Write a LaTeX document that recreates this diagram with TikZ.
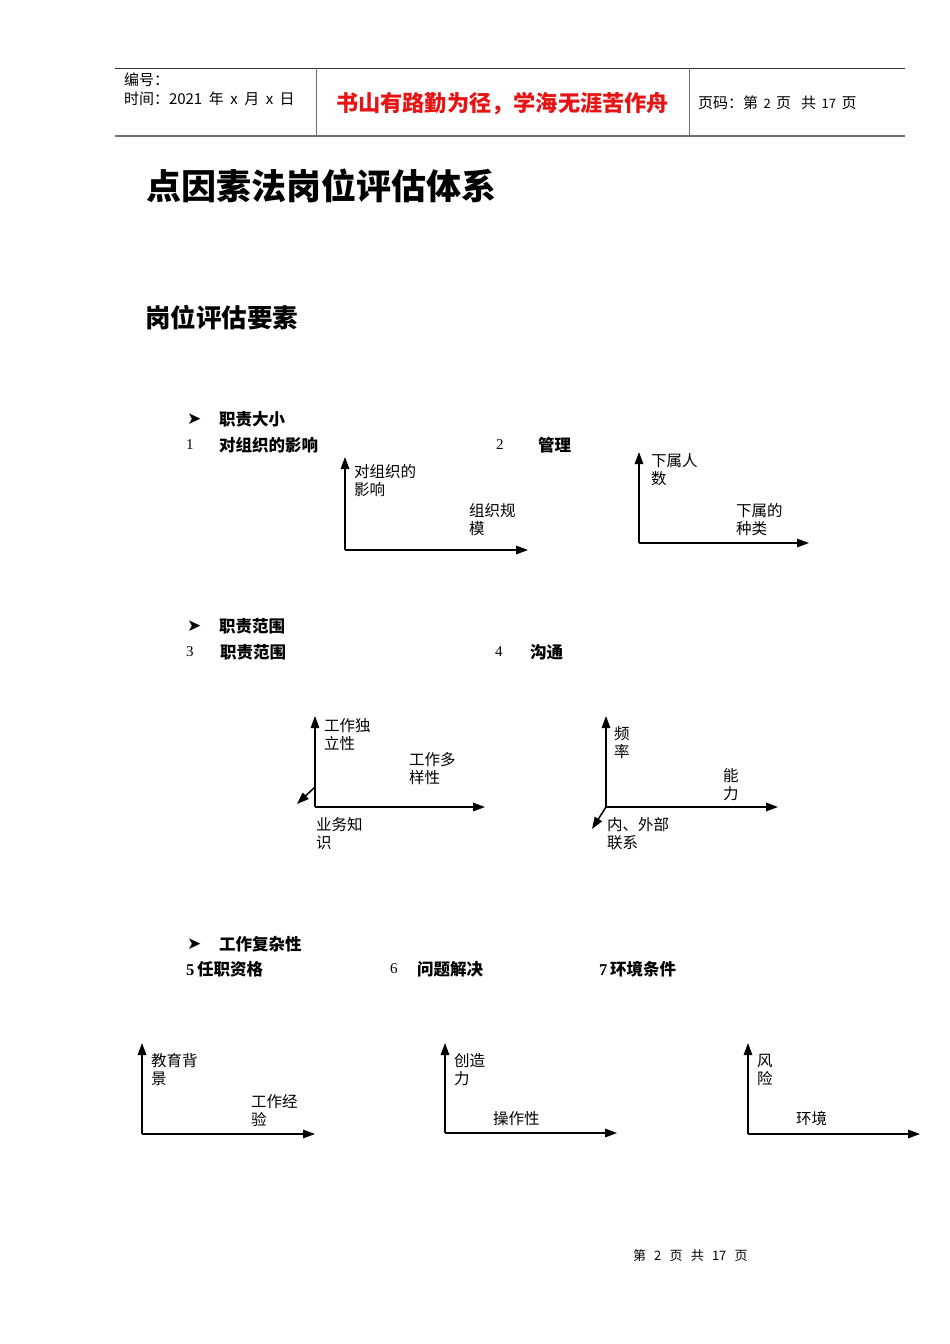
\documentclass[tikz,border=0pt]{standalone}
\usepackage{fontspec}
\usetikzlibrary{arrows.meta}
\newfontfamily\cjk{Noto Sans CJK SC}
\newfontfamily\djv{DejaVu Sans}
\newfontfamily\serifnum{Liberation Serif}
\definecolor{motto}{RGB}{230,20,20}
\definecolor{rulegray}{RGB}{110,110,110}
\tikzset{
  txt/.style={anchor=west,inner sep=0pt,outer sep=0pt,align=left},
  hdr/.style={txt,font=\cjk\fontsize{15}{20}\selectfont},
  lbl/.style={txt,font=\cjk\fontsize{15.5}{18}\selectfont},
  bul/.style={txt,font=\cjk\bfseries\fontsize{16.5}{18}\selectfont},
  num/.style={txt,font=\serifnum\fontsize{15}{18}\selectfont},
  axis/.style={line width=1.5pt,-{Triangle[length=12pt,width=8.5pt]}},
  frame/.style={line width=0.8pt,rulegray},
  arrowbullet/.style={txt,font=\djv\fontsize{17}{18}\selectfont}
}
\begin{document}
\begin{tikzpicture}[x=1pt,y=-1pt]
\useasboundingbox (0,0) rectangle (950,1344);
% header
\draw[frame,black!80] (115,68) -- (905,68);
\draw[rulegray,line width=2pt] (115,136) -- (905,136);
\draw[frame] (316,68) -- (316,136);
\draw[frame] (689,68) -- (689,136);
\node[hdr] (h1) at (124,80) {编号：};
\node[hdr] (h2) at (124,99) {时间：2021\hspace{6.5pt}年\hspace{6.5pt}x\hspace{6.5pt}月\hspace{6.5pt}x\hspace{6.5pt}日};
\node[txt,font=\cjk\bfseries\fontsize{22.2}{24}\selectfont,text=motto] (motto) at (336,104) {书山有路勤为径，学海无涯苦作舟};
\node[hdr] (pg) at (698,103) {页码：第\hspace{5.5pt}{\fontsize{13}{15}\selectfont 2}\hspace{5.5pt}页\hspace{10pt}共\hspace{5.5pt}{\fontsize{13}{15}\selectfont 17}\hspace{5.5pt}页};
% titles
\node[txt,font=\cjk\bfseries\fontsize{35}{40}\selectfont] (title) at (146,186) {点因素法岗位评估体系};
\node[txt,font=\cjk\bfseries\fontsize{25.5}{30}\selectfont] (sub) at (145,318) {岗位评估要素};
% section 1
\node[arrowbullet] (b1) at (187,419) {➤};
\node[bul] (s1) at (219,419) {职责大小};
\node[num] (n1) at (186,445) {1};
\node[bul] (t1) at (219,445) {对组织的影响};
\node[num] (n2) at (496,445) {2};
\node[bul] (t2) at (538,445) {管理};
% chart 1
\coordinate (o1) at (345,550);
\coordinate (y1) at (345,457);
\coordinate (x1) at (528,550);
\draw[axis] (o1) -- (y1);
\draw[axis] (o1) -- (x1);
\node[lbl] (c1a) at (354,481) {对组织的\\影响};
\node[lbl] (c1b) at (469,520) {组织规\\模};
% chart 2
\coordinate (o2) at (639,543);
\coordinate (y2) at (639,452);
\coordinate (x2) at (809,543);
\draw[axis] (o2) -- (y2);
\draw[axis] (o2) -- (x2);
\node[lbl] (c2a) at (651,470) {下属人\\数};
\node[lbl] (c2b) at (736,520) {下属的\\种类};
% section 2
\node[arrowbullet] (b2) at (187,626) {➤};
\node[bul] (s2) at (219,626) {职责范围};
\node[num] (n3) at (186,652) {3};
\node[bul] (t3) at (220,652) {职责范围};
\node[num] (n4) at (495,652) {4};
\node[bul] (t4) at (530,652) {沟通};
% chart 3
\coordinate (o3) at (315,807);
\coordinate (y3) at (315,716);
\coordinate (x3) at (485,807);
\coordinate (d3s) at (315,787);
\coordinate (d3) at (297,804);
\draw[axis] (o3) -- (y3);
\draw[axis] (o3) -- (x3);
\draw[axis] (d3s) -- (d3);
\node[lbl] (c3a) at (324,735) {工作独\\立性};
\node[lbl] (c3b) at (409,769) {工作多\\样性};
\node[lbl] (c3c) at (316,834) {业务知\\识};
% chart 4
\coordinate (o4) at (606,807);
\coordinate (y4) at (606,716);
\coordinate (x4) at (778,807);
\coordinate (d4) at (592,829);
\draw[axis] (o4) -- (y4);
\draw[axis] (o4) -- (x4);
\draw[axis] (o4) -- (d4);
\node[lbl] (c4a) at (614,743) {频\\率};
\node[lbl] (c4b) at (723,785) {能\\力};
\node[lbl] (c4c) at (607,834) {内、外部\\联系};
% section 3
\node[arrowbullet] (b3) at (187,944) {➤};
\node[bul] (s3) at (219,944) {工作复杂性};
\node[txt,font=\cjk\bfseries\fontsize{16.5}{18}\selectfont] (t5) at (186,969) {{\serifnum 5}\,任职资格};
\node[num] (n6) at (390,969) {6};
\node[bul] (t6) at (417,969) {问题解决};
\node[txt,font=\cjk\bfseries\fontsize{16.5}{18}\selectfont] (t7) at (599,969) {{\serifnum 7}\,环境条件};
% chart 5
\coordinate (o5) at (142,1134);
\coordinate (y5) at (142,1043);
\coordinate (x5) at (315,1134);
\draw[axis] (o5) -- (y5);
\draw[axis] (o5) -- (x5);
\node[lbl] (c5a) at (151,1070) {教育背\\景};
\node[lbl] (c5b) at (251,1111) {工作经\\验};
% chart 6
\coordinate (o6) at (445,1133);
\coordinate (y6) at (445,1043);
\coordinate (x6) at (617,1133);
\draw[axis] (o6) -- (y6);
\draw[axis] (o6) -- (x6);
\node[lbl] (c6a) at (454,1070) {创造\\力};
\node[lbl] (c6b) at (493,1119) {操作性};
% chart 7
\coordinate (o7) at (748,1134);
\coordinate (y7) at (748,1043);
\coordinate (x7) at (920,1134);
\draw[axis] (o7) -- (y7);
\draw[axis] (o7) -- (x7);
\node[lbl] (c7a) at (757,1070) {风\\险};
\node[lbl] (c7b) at (796,1119) {环境};
% footer
\node[txt,font=\cjk\fontsize{13}{15}\selectfont] (foot) at (633,1256) {第\hspace{8.2pt}2\hspace{8.2pt}页\hspace{8.2pt}共\hspace{8.2pt}17\hspace{8.2pt}页};
\end{tikzpicture}
\end{document}
